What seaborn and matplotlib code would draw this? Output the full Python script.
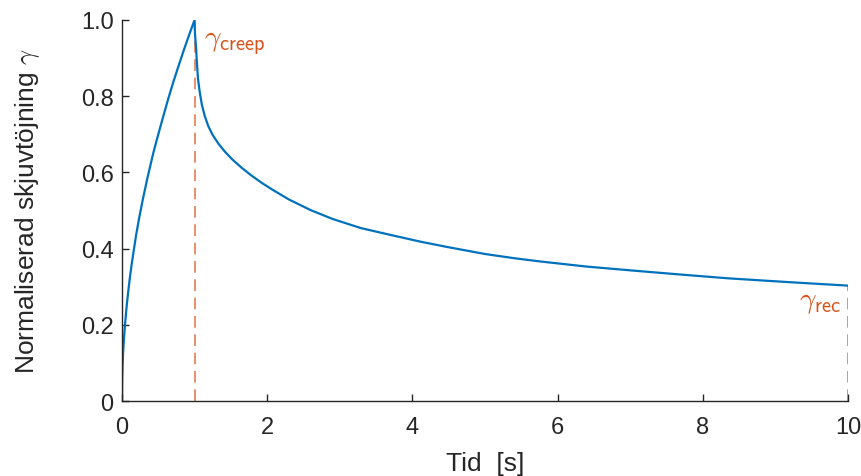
import matplotlib
matplotlib.use("Agg")
import matplotlib.pyplot as plt
import seaborn as sns
import pandas as pd

# Creep phase (0..1 s)
t_creep = [0.0, 0.003, 0.008, 0.015, 0.027, 0.043, 0.06, 0.08, 0.105, 0.135, 0.165,
           0.195, 0.24, 0.288, 0.35, 0.43, 0.5, 0.57, 0.64, 0.71, 0.78, 0.85, 0.925, 1.0]
g_creep = [0.0, 0.055, 0.09, 0.125, 0.163, 0.203, 0.24, 0.277, 0.318, 0.361, 0.399,
           0.436, 0.484, 0.530, 0.585, 0.650, 0.700, 0.748, 0.795, 0.839, 0.880, 0.920,
           0.961, 1.0]
# Recovery phase (1..10 s)
t_rec = [1.003, 1.008, 1.013, 1.02, 1.03, 1.047, 1.07, 1.10, 1.14, 1.19, 1.25, 1.33,
         1.42, 1.52, 1.65, 1.79, 1.93, 2.07, 2.3, 2.6, 2.9, 3.29, 3.7, 4.12, 4.49,
         5.0, 5.4, 5.78, 6.4, 7.07, 7.7, 8.36, 9.2, 10.0]
g_rec = [0.975, 0.958, 0.945, 0.929, 0.893, 0.846, 0.812, 0.778, 0.748, 0.721, 0.698,
         0.675, 0.654, 0.634, 0.612, 0.591, 0.572, 0.555, 0.529, 0.501, 0.478, 0.454,
         0.436, 0.418, 0.404, 0.386, 0.375, 0.366, 0.353, 0.342, 0.332, 0.322, 0.312,
         0.303]

xticks = [0, 2, 4, 6, 8, 10]
yticks = [0, 0.2, 0.4, 0.6, 0.8, 1.0]
ytick_labels = ["0", "0.2", "0.4", "0.6", "0.8", "1.0"]

sns.set_style("ticks")
plt.rcParams["font.family"] = ["Liberation Sans", "DejaVu Sans"]
plt.rcParams["mathtext.fontset"] = "cm"

blue = "#0072BD"
orange = "#D95319"
dark = "#262626"

df = pd.DataFrame({"t": t_creep + t_rec, "g": g_creep + g_rec})

fig = plt.figure(figsize=(8.62, 4.77), dpi=100)
ax = fig.add_axes([0.1415, 0.157, 0.8423, 0.799])

# dashed markers
ax.plot([t_creep[-1], t_creep[-1]], [0, g_creep[-1]], ls=(0, (7, 4)), color=orange, lw=1.2, alpha=0.75)
ax.plot([t_rec[-1], t_rec[-1]], [0, g_rec[-1]], ls=(0, (7, 4)), color=orange, lw=1.2, alpha=0.75)

sns.lineplot(data=df, x="t", y="g", sort=False, estimator=None, color=blue, lw=1.6, ax=ax)

ax.set_xlim(0, 10)
ax.set_ylim(0, 1.0)
ax.set_xticks(xticks)
ax.set_xticklabels([str(v) for v in xticks])
ax.set_yticks(yticks)
ax.set_yticklabels(ytick_labels)
ax.tick_params(direction="in", length=5, width=1, colors=dark, labelsize=17)
ax.tick_params(axis="x", pad=11)
ax.tick_params(axis="y", pad=6)
for s in ["left", "bottom"]:
    ax.spines[s].set_color(dark)
    ax.spines[s].set_linewidth(1)
sns.despine(ax=ax)

ax.set_xlabel("Tid  [s]", fontsize=19, color=dark, labelpad=9)
ax.set_ylabel(r"Normaliserad skjuvtöjning $\gamma$", fontsize=19, color=dark, labelpad=28)

ax.text(1.13, 0.942, r"$\gamma_{\mathsf{creep}}$", color=orange, fontsize=21, va="center", ha="left")
ax.text(9.9, 0.262, r"$\gamma_{\mathsf{rec}}$", color=orange, fontsize=21, va="center", ha="right")

fig.savefig("out.png", dpi=100)
